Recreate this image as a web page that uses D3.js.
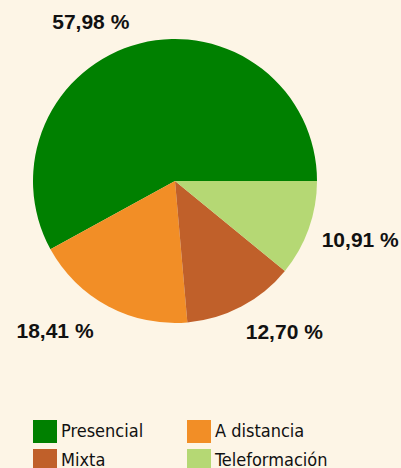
<!DOCTYPE html>
<html>
<head>
<meta charset="utf-8">
<script src="https://cdn.jsdelivr.net/npm/d3@7"></script>
<style>
  body { margin: 0; background: #fdf5e6; }
  svg { display: block; }
</style>
</head>
<body>
<div id="chart"></div>
<script>
// data
var categories = ["Presencial", "A distancia", "Mixta", "Teleformación"];
var shares = [57.98, 18.41, 12.70, 10.91];
var colors = ["#008000", "#f28e26", "#c0602a", "#b5d874"];

var width = 401, height = 468;
var cx = 175, cy = 181, radius = 142;

var svg = d3.select("#chart")
    .append("svg")
    .attr("width", width)
    .attr("height", height);

svg.append("rect")
    .attr("width", width)
    .attr("height", height)
    .attr("fill", "#fdf5e6");

var color = d3.scaleOrdinal().domain(categories).range(colors);

var locale = d3.formatLocale({decimal: ",", thousands: ".", grouping: [3], currency: ["", "€"]});
var fmt = locale.format(".2f");

// starts at 3 o'clock, runs counterclockwise
var pie = d3.pie()
    .sort(null)
    .startAngle(Math.PI / 2)
    .endAngle(Math.PI / 2 - 2 * Math.PI)
    .value(function(d) { return d.value; });

var data = categories.map(function(c, i) { return {name: c, value: shares[i]}; });
var arcs = pie(data);

var arc = d3.arc().innerRadius(0).outerRadius(radius);

var g = svg.append("g")
    .attr("transform", "translate(" + cx + "," + cy + ")");

g.selectAll("path")
    .data(arcs)
    .enter().append("path")
    .attr("d", arc)
    .attr("fill", function(d) { return color(d.data.name); });

// labels outside the pie
var labelR = 160;
g.selectAll("text.lbl")
    .data(arcs)
    .enter().append("text")
    .attr("class", "lbl")
    .each(function(d) {
        var a = (d.startAngle + d.endAngle) / 2;
        var sx = Math.sin(a), sy = -Math.cos(a);
        var x = sx * labelR, y = sy * labelR;
        d3.select(this)
            .attr("x", sx < 0 ? x - 6 : x - 4)
            .attr("y", y + 10 + 7 * sy)
            .attr("text-anchor", sx < 0 ? "end" : "start");
    })
    .attr("font-family", "'Liberation Sans', Arial, sans-serif")
    .attr("font-weight", "bold")
    .attr("font-size", "21px")
    .attr("fill", "#111")
    .text(function(d) { return fmt(d.data.value) + " %"; });

// legend
var legend = svg.append("g")
    .attr("transform", "translate(33,420)");

var item = legend.selectAll("g")
    .data(categories)
    .enter().append("g")
    .attr("transform", function(d, i) {
        return "translate(" + ((i % 2) * 154) + "," + (Math.floor(i / 2) * 29) + ")";
    });

item.append("rect")
    .attr("width", 24)
    .attr("height", 23)
    .attr("fill", function(d) { return color(d); });

item.append("text")
    .attr("x", 28)
    .attr("y", 17)
    .attr("font-family", "'DejaVu Sans Condensed', 'DejaVu Sans', sans-serif")
    .style("font-stretch", "condensed")
    .attr("font-size", "18px")
    .attr("fill", "#111")
    .text(function(d) { return d; });
</script>
</body>
</html>
